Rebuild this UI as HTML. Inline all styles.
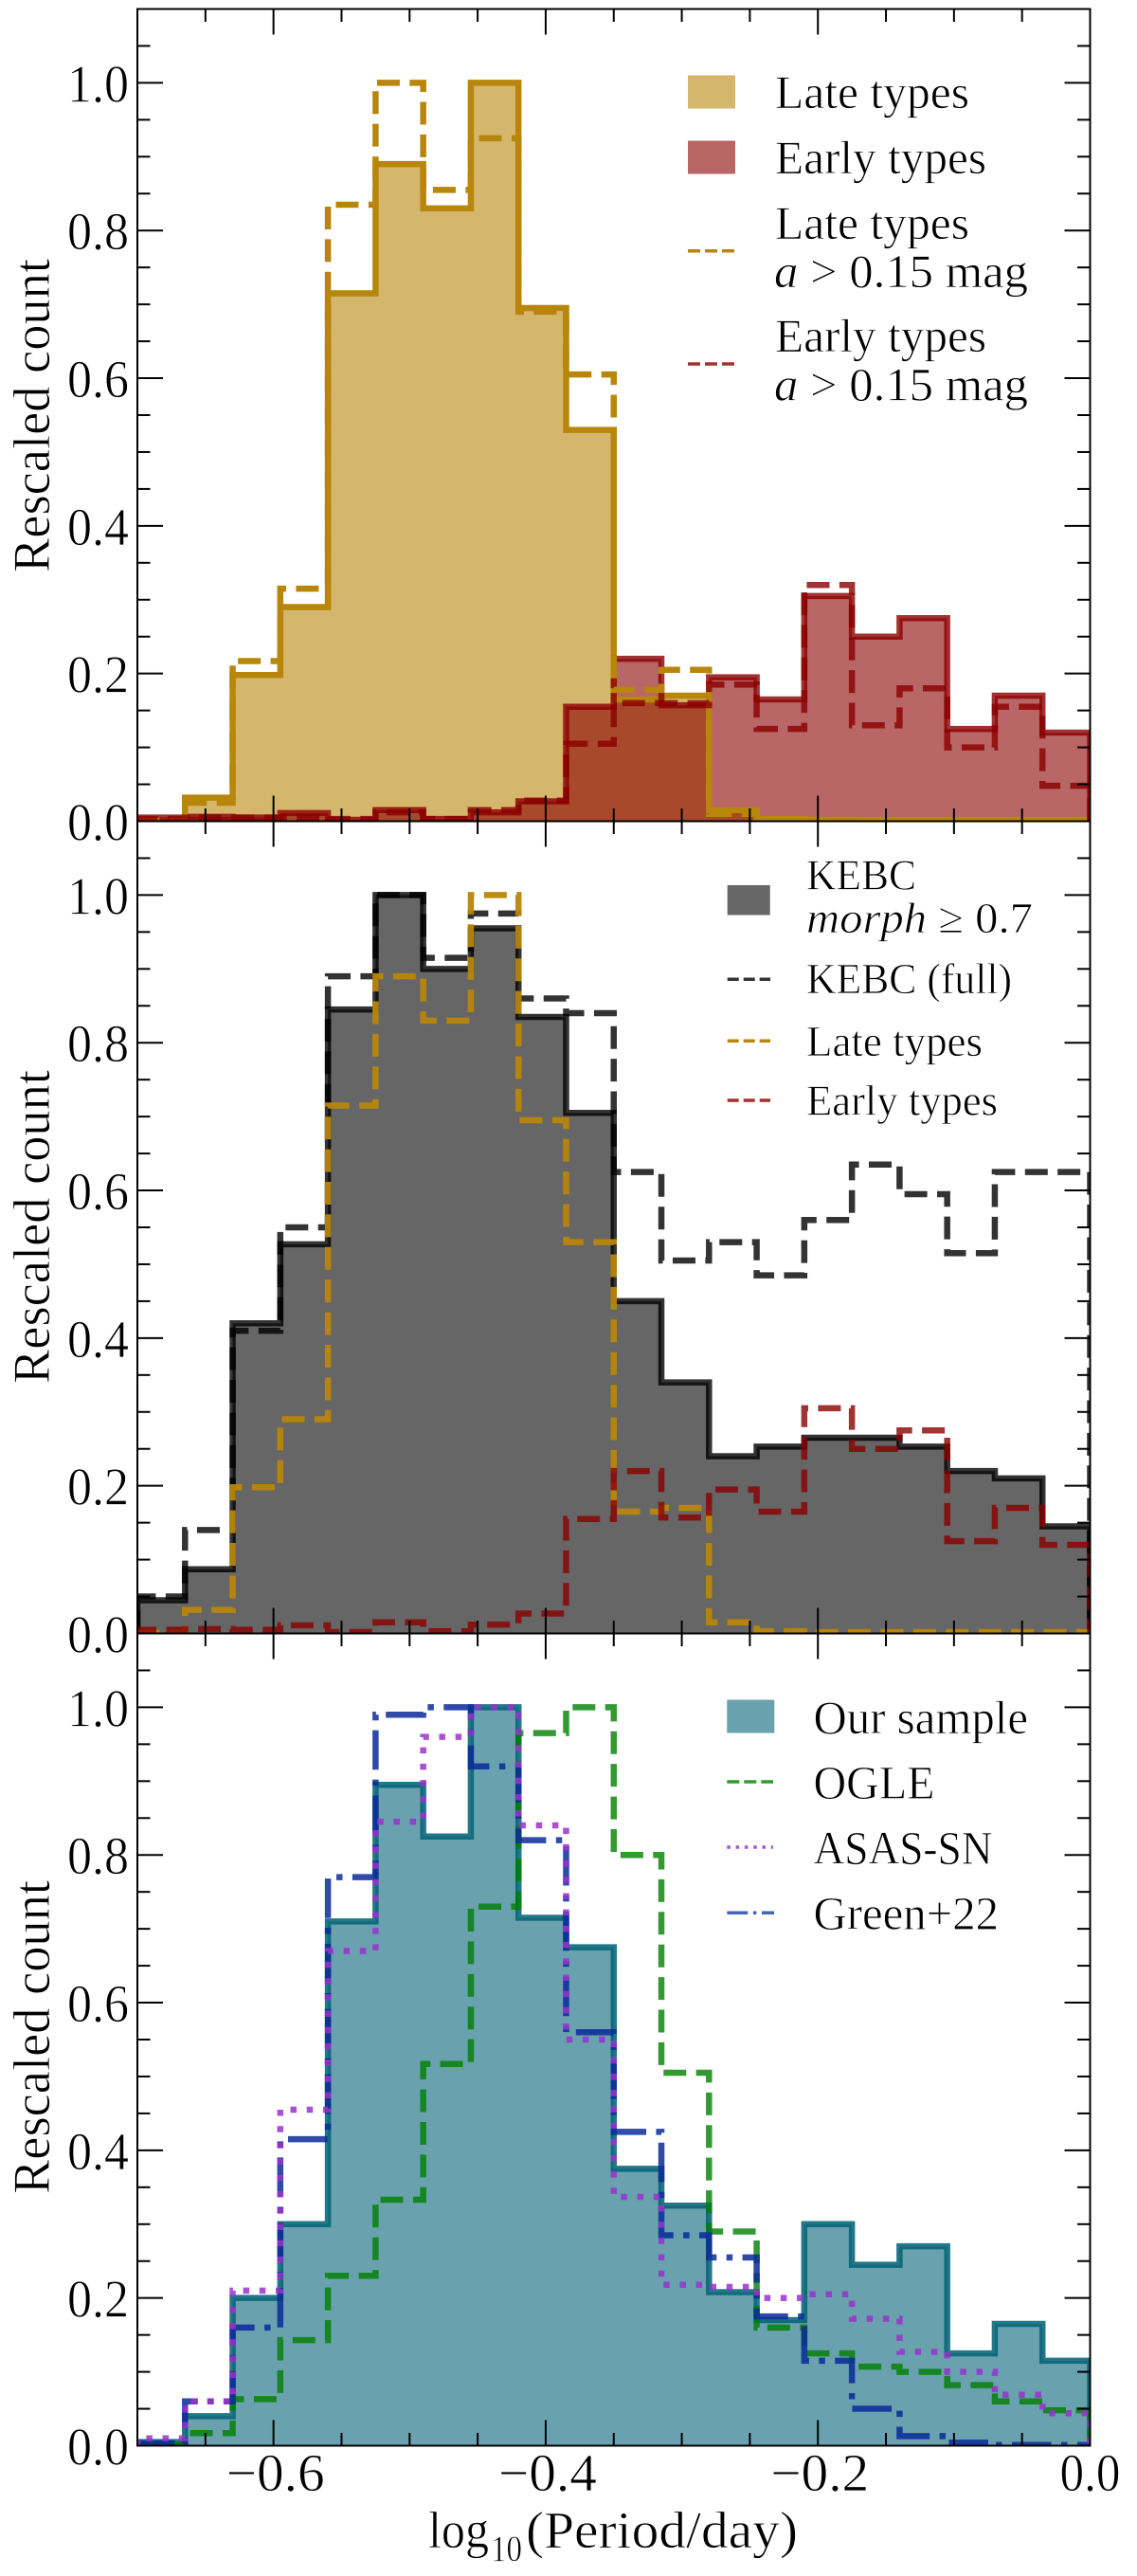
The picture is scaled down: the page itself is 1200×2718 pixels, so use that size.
<!DOCTYPE html>
<html lang="en">
<head>
<meta charset="utf-8">
<title>Rescaled count histograms</title>
<style>
html,body{margin:0;padding:0;background:#fff;width:1200px;height:2718px;overflow:hidden}
svg{display:block}
text{font-family:"Liberation Serif",serif;fill:#000;stroke:#fff;stroke-width:0.7px}
</style>
</head>
<body>
<svg id="figure" xmlns="http://www.w3.org/2000/svg" width="1200" height="2718" viewBox="0 0 1200 2718">
  <defs>
    <clipPath id="clip-top"><rect x="145" y="9.5" width="1005.5" height="857"/></clipPath>
    <clipPath id="clip-mid"><rect x="145" y="866.5" width="1005.5" height="857"/></clipPath>
    <clipPath id="clip-bot"><rect x="145" y="1723.5" width="1005.5" height="857"/></clipPath>
  </defs>
  <rect x="0" y="0" width="1200" height="2718" fill="#fff"/>
  <g id="marks-top" clip-path="url(#clip-top)"></g>
  <g id="marks-mid" clip-path="url(#clip-mid)"></g>
  <g id="marks-bot" clip-path="url(#clip-bot)"></g>
  <g id="axes"></g>

  <text transform="translate(52,604) rotate(-90)" font-size="55" textLength="331" lengthAdjust="spacingAndGlyphs">Rescaled count</text>
  <text transform="translate(52,1460) rotate(-90)" font-size="55" textLength="331" lengthAdjust="spacingAndGlyphs">Rescaled count</text>
  <text transform="translate(52,2315) rotate(-90)" font-size="55" textLength="331" lengthAdjust="spacingAndGlyphs">Rescaled count</text>

  <g>
    <text x="452" y="2688" font-size="55" textLength="64" lengthAdjust="spacingAndGlyphs">log</text>
    <text x="518" y="2702" font-size="39" textLength="33" lengthAdjust="spacingAndGlyphs">10</text>
    <text x="555" y="2688" font-size="55" textLength="287" lengthAdjust="spacingAndGlyphs">(Period/day)</text>
  </g>

  <g>
    <rect x="726" y="79.5" width="50" height="35" fill="#d4b66d"/>
    <text x="818" y="114" font-size="50" textLength="205" lengthAdjust="spacingAndGlyphs">Late types</text>
    <rect x="726" y="148.5" width="50" height="35" fill="#b96666"/>
    <text x="818" y="183" font-size="50" textLength="223" lengthAdjust="spacingAndGlyphs">Early types</text>
    <line x1="726" y1="264.7" x2="775" y2="264.7" stroke="#b8860b" stroke-width="3.5" stroke-dasharray="13 5"/>
    <text x="818" y="252" font-size="50" textLength="205" lengthAdjust="spacingAndGlyphs">Late types</text>
    <text x="817" y="303" font-size="50" textLength="268" lengthAdjust="spacingAndGlyphs"><tspan font-style="italic">a</tspan> &gt; 0.15 mag</text>
    <line x1="726" y1="384" x2="775" y2="384" stroke="#8b0000" stroke-opacity="0.8" stroke-width="3.5" stroke-dasharray="13 5"/>
    <text x="818" y="371" font-size="50" textLength="223" lengthAdjust="spacingAndGlyphs">Early types</text>
    <text x="817" y="422.7" font-size="50" textLength="268" lengthAdjust="spacingAndGlyphs"><tspan font-style="italic">a</tspan> &gt; 0.15 mag</text>
  </g>

  <g>
    <rect x="767.7" y="934" width="45" height="31.5" fill="#666"/>
    <text x="851" y="938.3" font-size="46" textLength="116" lengthAdjust="spacingAndGlyphs">KEBC</text>
    <text x="851" y="984" font-size="46" textLength="239" lengthAdjust="spacingAndGlyphs"><tspan font-style="italic">morph</tspan> ≥ 0.7</text>
    <line x1="767.7" y1="1033.3" x2="813" y2="1033.3" stroke="#000" stroke-opacity="0.8" stroke-width="3.5" stroke-dasharray="12 5"/>
    <text x="851" y="1048" font-size="46" textLength="217" lengthAdjust="spacingAndGlyphs">KEBC (full)</text>
    <line x1="767.7" y1="1098.3" x2="813" y2="1098.3" stroke="#b8860b" stroke-width="3.5" stroke-dasharray="12 5"/>
    <text x="851" y="1114" font-size="46" textLength="186" lengthAdjust="spacingAndGlyphs">Late types</text>
    <line x1="767.7" y1="1161" x2="813" y2="1161" stroke="#8b0000" stroke-opacity="0.8" stroke-width="3.5" stroke-dasharray="12 5"/>
    <text x="851" y="1176.7" font-size="46" textLength="202" lengthAdjust="spacingAndGlyphs">Early types</text>
  </g>

  <g>
    <rect x="767.3" y="1793.5" width="50" height="35" fill="#69a2ae"/>
    <text x="858.5" y="1829" font-size="50" textLength="226.5" lengthAdjust="spacingAndGlyphs">Our sample</text>
    <line x1="767.3" y1="1880" x2="816" y2="1880" stroke="#008000" stroke-opacity="0.8" stroke-width="3.5" stroke-dasharray="13 5"/>
    <text x="858.5" y="1897.3" font-size="50" textLength="128" lengthAdjust="spacingAndGlyphs">OGLE</text>
    <line x1="767.3" y1="1949" x2="816" y2="1949" stroke="#9932cc" stroke-opacity="0.85" stroke-width="3.5" stroke-dasharray="3.5 5.8"/>
    <text x="858.5" y="1966.7" font-size="50" textLength="189" lengthAdjust="spacingAndGlyphs">ASAS-SN</text>
    <line x1="767.3" y1="2018.3" x2="817" y2="2018.3" stroke="#1c3da0" stroke-opacity="0.8" stroke-width="3.5" stroke-dasharray="22 5.6 3.5 5.6"/>
    <text x="858.5" y="2035.7" font-size="50" textLength="195.5" lengthAdjust="spacingAndGlyphs">Green+22</text>
  </g>
</svg>
<script>
// Histogram binning
const binStart = -0.7;
const binWidth = 0.035;

// Top panel series (one value per bin)
const lateTypes = [0.001, 0.032, 0.198, 0.29, 0.715, 0.89, 0.83, 1.0, 0.695, 0.53, 0.165, 0.17, 0.015, 0.003, 0.002, 0.002, 0.002, 0.002, 0.002, 0.002];
const earlyTypes = [0.005, 0.006, 0.005, 0.011, 0.002, 0.015, 0.003, 0.012, 0.027, 0.155, 0.22, 0.157, 0.195, 0.165, 0.305, 0.25, 0.275, 0.125, 0.17, 0.12];
const lateAmp = [0.001, 0.025, 0.217, 0.315, 0.835, 1.0, 0.855, 0.925, 0.69, 0.605, 0.178, 0.205, 0.01, 0.002, 0.002, 0.001, 0.001, 0.001, 0.001, 0.001];
const earlyAmp = [0.003, 0.005, 0.005, 0.005, 0.003, 0.012, 0.003, 0.015, 0.028, 0.105, 0.16, 0.16, 0.185, 0.125, 0.32, 0.13, 0.18, 0.10, 0.155, 0.048];

// Middle panel series
const kebcMorph = [0.045, 0.087, 0.42, 0.527, 0.845, 1.0, 0.9, 0.955, 0.835, 0.705, 0.45, 0.34, 0.24, 0.253, 0.265, 0.265, 0.253, 0.22, 0.21, 0.145];
const kebcFull = [0.05, 0.14, 0.41, 0.55, 0.89, 1.0, 0.915, 0.975, 0.86, 0.84, 0.625, 0.505, 0.53, 0.485, 0.56, 0.635, 0.595, 0.515, 0.625, 0.625];

// Bottom panel series
const ourSample = [0.005, 0.04, 0.2, 0.3, 0.71, 0.895, 0.825, 1.0, 0.715, 0.675, 0.375, 0.325, 0.208, 0.17, 0.3, 0.245, 0.27, 0.125, 0.165, 0.115];
const ogle = [0.002, 0.017, 0.063, 0.143, 0.23, 0.333, 0.517, 0.73, 0.965, 1.0, 0.8, 0.505, 0.29, 0.16, 0.125, 0.107, 0.1, 0.082, 0.06, 0.048];
const asasSn = [0.01, 0.06, 0.21, 0.455, 0.67, 0.845, 0.96, 1.0, 0.84, 0.55, 0.337, 0.218, 0.215, 0.2, 0.205, 0.172, 0.127, 0.1, 0.069, 0.044];
const green22 = [0.003, 0.06, 0.16, 0.415, 0.77, 0.99, 1.0, 0.92, 0.82, 0.56, 0.425, 0.285, 0.255, 0.175, 0.115, 0.05, 0.013, 0.004, 0.001, 0.001];

// Tick values and labels
const yMajorTicks = [0, 0.2, 0.4, 0.6, 0.8, 1.0];
const yMinorTicks = [0.05, 0.1, 0.15, 0.25, 0.3, 0.35, 0.45, 0.5, 0.55, 0.65, 0.7, 0.75, 0.85, 0.9, 0.95, 1.05];
const yTickLabels = ['0.0', '0.2', '0.4', '0.6', '0.8', '1.0'];
const xMajorTicks = [-0.6, -0.4, -0.2, 0];
const xMinorTicks = [-0.65, -0.55, -0.5, -0.45, -0.35, -0.3, -0.25, -0.15, -0.1, -0.05];
const xTickLabels = ['−0.6', '−0.4', '−0.2', '0.0'];

const SVGNS = 'http://www.w3.org/2000/svg';
const plotLeft = 145, plotRight = 1150.5, yUnit = 857 / 1.1;
const panelBottoms = [866.5, 1723.5, 2580.5];

function xScale(v) { return plotLeft + (v - binStart) * (plotRight - plotLeft) / 0.7; }
function yScale(v, panel) { return panelBottoms[panel] - v * yUnit; }

function stepPoints(values, panel) {
  const pts = [[xScale(binStart), yScale(0, panel)]];
  values.forEach(function (v, i) {
    pts.push([xScale(binStart + i * binWidth), yScale(v, panel)]);
    pts.push([xScale(binStart + (i + 1) * binWidth), yScale(v, panel)]);
  });
  pts.push([xScale(binStart + values.length * binWidth), yScale(0, panel)]);
  return pts.map(function (p) { return p[0].toFixed(2) + ',' + p[1].toFixed(2); }).join(' ');
}

function drawFill(group, values, panel, color, name) {
  const el = document.createElementNS(SVGNS, 'polygon');
  
  
  el.setAttribute('points', stepPoints(values, panel));
  el.setAttribute('fill', color);
  el.setAttribute('fill-opacity', '0.6');
  group.appendChild(el);
}

function drawStep(group, values, panel, color, opacity, dash, name) {
  const el = document.createElementNS(SVGNS, 'polyline');
  
  
  el.setAttribute('points', stepPoints(values, panel));
  el.setAttribute('fill', 'none');
  el.setAttribute('stroke', color);
  el.setAttribute('stroke-opacity', opacity);
  el.setAttribute('stroke-width', '6.5');
  el.setAttribute('stroke-linejoin', 'miter');
  if (dash) { el.setAttribute('stroke-dasharray', dash); }
  group.appendChild(el);
}

const dashed = '24 10.4';
const dotted = '6.5 10.7';
const dashDot = '41.6 10.4 6.5 10.4';

const gTop = document.getElementById('marks-top');
drawFill(gTop, lateTypes, 0, '#b8860b', 'late-types-fill');
drawFill(gTop, earlyTypes, 0, '#8b0000', 'early-types-fill');
drawStep(gTop, lateTypes, 0, '#b8860b', 1, '', 'late-types-outline');
drawStep(gTop, earlyTypes, 0, '#8b0000', 0.8, '', 'early-types-outline');
drawStep(gTop, lateAmp, 0, '#b8860b', 1, dashed, 'late-types-amplitude-cut');
drawStep(gTop, earlyAmp, 0, '#8b0000', 0.8, dashed, 'early-types-amplitude-cut');

const gMid = document.getElementById('marks-mid');
drawFill(gMid, kebcMorph, 1, '#000000', 'kebc-morph-fill');
drawStep(gMid, kebcMorph, 1, '#000000', 0.8, '', 'kebc-morph-outline');
drawStep(gMid, kebcFull, 1, '#000000', 0.8, dashed, 'kebc-full');
drawStep(gMid, lateTypes, 1, '#b8860b', 0.95, dashed, 'late-types-line');
drawStep(gMid, earlyTypes, 1, '#8b0000', 0.8, dashed, 'early-types-line');

const gBot = document.getElementById('marks-bot');
drawFill(gBot, ourSample, 2, '#056478', 'our-sample-fill');
drawStep(gBot, ourSample, 2, '#056478', 0.88, '', 'our-sample-outline');
drawStep(gBot, ogle, 2, '#008000', 0.8, dashed, 'ogle-line');
drawStep(gBot, green22, 2, '#0a2a9a', 0.85, dashDot, 'green-22-line');
drawStep(gBot, asasSn, 2, '#9932cc', 0.85, dotted, 'asas-sn-line');

const axes = document.getElementById('axes');

function drawTick(x1, y1, x2, y2, name) {
  const el = document.createElementNS(SVGNS, 'line');
  
  
  el.setAttribute('x1', x1);
  el.setAttribute('y1', y1);
  el.setAttribute('x2', x2);
  el.setAttribute('y2', y2);
  el.setAttribute('stroke', '#000');
  el.setAttribute('stroke-width', '2');
  axes.appendChild(el);
}

function drawLabel(x, y, label, length, name) {
  const el = document.createElementNS(SVGNS, 'text');
  
  
  el.setAttribute('x', x);
  el.setAttribute('y', y);
  el.setAttribute('font-size', '56');
  el.setAttribute('textLength', length);
  el.setAttribute('lengthAdjust', 'spacingAndGlyphs');
  el.textContent = label;
  axes.appendChild(el);
}

const majorLen = 27, minorLen = 13.5;
panelBottoms.forEach(function (bottom, p) {
  const top = bottom - 857;
  yMajorTicks.forEach(function (v, i) {
    const y = yScale(v, p);
    drawTick(plotLeft, y, plotLeft + majorLen, y, 'y-major-tick-left');
    drawTick(plotRight, y, plotRight - majorLen, y, 'y-major-tick-right');
    drawLabel(71, y + 20, yTickLabels[i], 65, 'y-tick-label');
  });
  yMinorTicks.forEach(function (v) {
    const y = yScale(v, p);
    drawTick(plotLeft, y, plotLeft + minorLen, y, 'y-minor-tick-left');
    drawTick(plotRight, y, plotRight - minorLen, y, 'y-minor-tick-right');
  });
  xMajorTicks.forEach(function (v) {
    const x = xScale(v);
    drawTick(x, bottom, x, bottom - majorLen, 'x-major-tick-bottom');
    drawTick(x, top, x, top + majorLen, 'x-major-tick-top');
  });
  xMinorTicks.forEach(function (v) {
    const x = xScale(v);
    drawTick(x, bottom, x, bottom - minorLen, 'x-minor-tick-bottom');
    drawTick(x, top, x, top + minorLen, 'x-minor-tick-top');
  });
  const frame = document.createElementNS(SVGNS, 'rect');
  
  
  frame.setAttribute('x', plotLeft);
  frame.setAttribute('y', top);
  frame.setAttribute('width', plotRight - plotLeft);
  frame.setAttribute('height', 857);
  frame.setAttribute('fill', 'none');
  frame.setAttribute('stroke', '#000');
  frame.setAttribute('stroke-width', '2');
  axes.appendChild(frame);
});

xMajorTicks.forEach(function (v, i) {
  const isZero = v === 0;
  const x = isZero ? xScale(v) - 32 : xScale(v) - 50;
  drawLabel(x, 2628, xTickLabels[i], isZero ? 64 : 104, 'x-tick-label');
});
</script>
</body>
</html>
